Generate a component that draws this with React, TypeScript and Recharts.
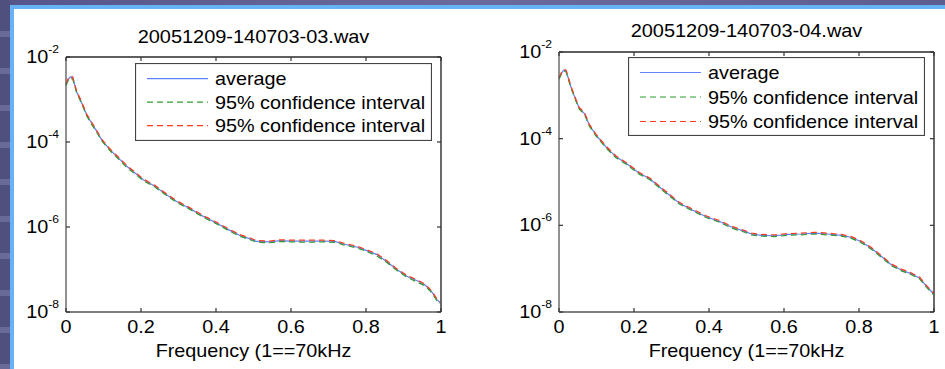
import { LineChart, Line, XAxis, YAxis, Legend, CartesianGrid } from 'recharts';

const FONT = '"Liberation Sans", Arial, Helvetica, sans-serif';
const SX = 1.1; // the slide stretched the matlab figure a bit sideways
const AXIS = '#555';

// frequency axis, normalised (1 == 70 kHz)
const freqTicks = [0, 0.2, 0.4, 0.6, 0.8, 1];
// power axis, values kept as log10 (10^-8 ... 10^-2)
const powerTicks = [-8, -6, -4, -2];

const seriesKeys = ['avg', 'low', 'high'];
const seriesNames = ['average', '95% confidence interval', '95% confidence interval'];
const seriesColors = ['#5f82ff', '#2f9a2f', '#ff3c1e'];
const seriesDash = [undefined, '6 4', '6 4'];

// 20051209-140703-03.wav
const freq03 = [0, 0.006, 0.011, 0.018, 0.028, 0.042, 0.055, 0.068, 0.082, 0.095, 0.117, 0.14, 0.162, 0.184, 0.206, 0.237, 0.268, 0.295, 0.331, 0.366, 0.402, 0.437, 0.464, 0.491, 0.509, 0.544, 0.571, 0.597, 0.642, 0.686, 0.717, 0.74, 0.775, 0.8, 0.829, 0.855, 0.882, 0.909, 0.935, 0.957, 0.975, 0.989, 1];
const avg03 = [-2.65, -2.53, -2.47, -2.49, -2.81, -3.08, -3.36, -3.55, -3.75, -3.95, -4.18, -4.38, -4.57, -4.73, -4.89, -5.04, -5.24, -5.4, -5.57, -5.75, -5.91, -6.08, -6.2, -6.28, -6.34, -6.35, -6.32, -6.33, -6.33, -6.33, -6.34, -6.4, -6.47, -6.55, -6.65, -6.81, -7.0, -7.16, -7.26, -7.36, -7.52, -7.71, -7.8];
const low03 = [-2.67, -2.55, -2.49, -2.52, -2.83, -3.1, -3.38, -3.58, -3.77, -3.97, -4.2, -4.4, -4.6, -4.75, -4.91, -5.06, -5.26, -5.42, -5.59, -5.77, -5.93, -6.1, -6.22, -6.3, -6.36, -6.37, -6.34, -6.35, -6.36, -6.35, -6.36, -6.42, -6.49, -6.57, -6.68, -6.83, -7.02, -7.18, -7.29, -7.38, -7.54, -7.73, -7.82];
const high03 = [-2.63, -2.51, -2.45, -2.47, -2.79, -3.06, -3.34, -3.53, -3.73, -3.93, -4.16, -4.36, -4.55, -4.71, -4.87, -5.02, -5.22, -5.38, -5.55, -5.73, -5.89, -6.06, -6.18, -6.26, -6.32, -6.33, -6.3, -6.31, -6.31, -6.31, -6.32, -6.38, -6.45, -6.53, -6.63, -6.79, -6.98, -7.14, -7.24, -7.34, -7.5, -7.69, -7.78];

// 20051209-140703-04.wav
const freq04 = [0, 0.006, 0.0125, 0.019, 0.032, 0.045, 0.054, 0.068, 0.081, 0.099, 0.125, 0.152, 0.179, 0.214, 0.241, 0.277, 0.321, 0.357, 0.392, 0.428, 0.463, 0.495, 0.513, 0.54, 0.575, 0.611, 0.646, 0.682, 0.717, 0.753, 0.78, 0.806, 0.833, 0.86, 0.886, 0.913, 0.94, 0.962, 0.98, 1];
const avg04 = [-2.61, -2.5, -2.42, -2.44, -2.81, -3.11, -3.3, -3.42, -3.69, -3.92, -4.19, -4.42, -4.57, -4.8, -4.92, -5.18, -5.49, -5.65, -5.8, -5.91, -6.05, -6.14, -6.2, -6.23, -6.24, -6.21, -6.2, -6.18, -6.2, -6.23, -6.28, -6.38, -6.53, -6.72, -6.91, -7.03, -7.12, -7.22, -7.41, -7.59];
const low04 = [-2.63, -2.52, -2.44, -2.46, -2.83, -3.13, -3.32, -3.44, -3.71, -3.94, -4.21, -4.44, -4.59, -4.82, -4.94, -5.2, -5.51, -5.67, -5.82, -5.93, -6.07, -6.16, -6.22, -6.25, -6.26, -6.23, -6.22, -6.2, -6.22, -6.25, -6.3, -6.4, -6.55, -6.74, -6.93, -7.05, -7.14, -7.24, -7.43, -7.61];
const high04 = [-2.59, -2.48, -2.4, -2.42, -2.79, -3.09, -3.28, -3.4, -3.67, -3.9, -4.17, -4.4, -4.55, -4.78, -4.9, -5.16, -5.47, -5.63, -5.78, -5.89, -6.03, -6.12, -6.18, -6.21, -6.22, -6.19, -6.18, -6.16, -6.18, -6.21, -6.26, -6.36, -6.51, -6.7, -6.89, -7.01, -7.1, -7.2, -7.39, -7.57];

function Stretched({ x, y, size, anchor = 'middle', children }: any) {
  return (
    <g transform={`translate(${x},${y}) scale(${SX},1)`}>
      <text x={0} y={0} textAnchor={anchor} fontSize={size} fontFamily={FONT} fill="#000">
        {children}
      </text>
    </g>
  );
}

// inward matlab-style ticks, drawn by the tick renderers themselves
function FreqTick({ x, y, payload }: any) {
  return (
    <g>
      <line x1={x} x2={x} y1={y} y2={y - 4} stroke="#333" strokeWidth={1.2} />
      <Stretched x={x} y={y + 21} size={18}>{String(payload.value)}</Stretched>
    </g>
  );
}

function TopTick({ x, y }: any) {
  return <line x1={x} x2={x} y1={y} y2={y + 4} stroke="#333" strokeWidth={1.2} />;
}

function PowerTick({ x, y, payload }: any) {
  return (
    <g>
      <line x1={x} x2={x + 4} y1={y} y2={y} stroke="#333" strokeWidth={1.2} />
      <g transform={`translate(${x - 7},${y + 6}) scale(${SX},1)`}>
        <text x={0} y={0} textAnchor="end" fontFamily={FONT} fill="#000">
          <tspan fontSize={18}>10</tspan>
          <tspan fontSize={11} dy={-10}>{String(payload.value)}</tspan>
        </text>
      </g>
    </g>
  );
}

function RightTick({ x, y }: any) {
  return <line x1={x} x2={x - 4} y1={y} y2={y} stroke="#333" strokeWidth={1.2} />;
}

function LegendBox({ payload, w, h, row0, rowGap }: any) {
  const items = [...(payload || [])].sort(
    (a: any, b: any) => seriesKeys.indexOf(a.dataKey) - seriesKeys.indexOf(b.dataKey)
  );
  return (
    <svg width={w} height={h} style={{ display: 'block' }}>
      <rect x={0.5} y={0.5} width={w - 1} height={h - 1} fill="#fff" stroke="#444" strokeWidth={1.2} />
      {items.map((entry: any, i: number) => {
        const k = seriesKeys.indexOf(entry.dataKey);
        const cy = row0 + i * rowGap;
        return (
          <g key={i}>
            <line x1={12} x2={73} y1={cy} y2={cy} stroke={seriesColors[k]} strokeWidth={1.2}
              strokeDasharray={seriesDash[k]} />
            <Stretched x={80} y={cy + 6.5} size={18} anchor="start">{seriesNames[k]}</Stretched>
          </g>
        );
      })}
    </svg>
  );
}

function Panel({ file, freq, avg, low, high, left, width, margin, legend, titleY }: any) {
  const rows = freq.map((f: number, i: number) => ({ f, avg: avg[i], low: low[i], high: high[i] }));
  const plotLeft = margin.left + 50;
  const plotRight = width - margin.right - 1;
  const mid = (plotLeft + plotRight) / 2;
  return (
    <div style={{ position: 'absolute', left, top: 0, width, height: 369 }}>
      <LineChart width={width} height={369} data={rows} margin={margin}>
        <CartesianGrid horizontalValues={[-2]} verticalValues={[1]} stroke={AXIS} strokeWidth={1.3}
          strokeDasharray="" />
        <XAxis dataKey="f" type="number" domain={[0, 1]} ticks={freqTicks} interval={0}
          height={40} tickSize={0} tickMargin={0} tickLine={false} tick={FreqTick}
          stroke={AXIS} strokeWidth={1.3} />
        <XAxis xAxisId="top" orientation="top" dataKey="f" type="number" domain={[0, 1]}
          ticks={freqTicks} interval={0} height={1} tickSize={0} tickMargin={0} tickLine={false}
          tick={TopTick} stroke={AXIS} strokeWidth={1.3} />
        <YAxis type="number" domain={[-8, -2]} ticks={powerTicks} interval={0} width={50}
          tickSize={0} tickMargin={0} tickLine={false} tick={PowerTick} stroke={AXIS} strokeWidth={1.3}
          allowDataOverflow />
        <YAxis yAxisId="right" orientation="right" type="number" domain={[-8, -2]} ticks={powerTicks}
          interval={0} width={1} tickSize={0} tickMargin={0} tickLine={false} tick={RightTick}
          stroke={AXIS} strokeWidth={1.3} allowDataOverflow />
        <Legend layout="vertical" align="center" verticalAlign="middle"
          wrapperStyle={{ position: 'absolute', left: legend.x, top: legend.y, width: legend.w, height: legend.h }}
          content={(p: any) => <LegendBox {...p} {...legend} />} />
        <Line dataKey="avg" name={seriesNames[0]} stroke={seriesColors[0]} strokeWidth={1.2}
          dot={false} activeDot={false} isAnimationActive={false} />
        <Line dataKey="low" name={seriesNames[1]} stroke={seriesColors[1]} strokeWidth={1.2}
          strokeDasharray={seriesDash[1]} dot={false} activeDot={false} isAnimationActive={false} />
        <Line dataKey="high" name={seriesNames[2]} stroke={seriesColors[2]} strokeWidth={1.2}
          xAxisId="top" yAxisId="right"
          strokeDasharray={seriesDash[2]} dot={false} activeDot={false} isAnimationActive={false} />
      </LineChart>
      <svg width={width} height={369} style={{ position: 'absolute', left: 0, top: 0, pointerEvents: 'none' }}>
        <g transform={`translate(${mid},${titleY}) scale(1.05,1)`}>
          <text x={0} y={0} textAnchor="middle" fontSize={19} fontFamily={FONT} fill="#000">{file}</text>
        </g>
        <Stretched x={mid} y={357} size={18}>Frequency (1==70kHz</Stretched>
      </svg>
    </div>
  );
}

export default function App() {
  return (
    <div style={{ position: 'absolute', left: 0, top: 0, width: 945, height: 369, background: '#fff', overflow: 'hidden' }}>
      <div style={{ position: 'absolute', left: 0, top: 0, width: 945, height: 5, background: 'linear-gradient(90deg,#55558a,#6b6b9b 50%,#5d5d8f)' }} />
      <div style={{ position: 'absolute', left: 0, top: 0, width: 10, height: 369, background: 'repeating-linear-gradient(180deg,#50507e 0px,#50507e 31px,#6a6a98 31px,#6a6a98 37px)' }} />
      <div style={{ position: 'absolute', left: 10, top: 5, width: 935, height: 4, background: '#66b2f4' }} />
      <div style={{ position: 'absolute', left: 10, top: 5, width: 4, height: 364, background: '#66b2f4' }} />
      <Panel file="20051209-140703-03.wav" freq={freq03} avg={avg03} low={low03} high={high03}
        left={0} width={470} margin={{ top: 56, right: 28, bottom: 17, left: 16 }}
        legend={{ x: 135, y: 63, w: 297, h: 78, row0: 15.7, rowGap: 23.5 }} titleY={43} />
      <Panel file="20051209-140703-04.wav" freq={freq04} avg={avg04} low={low04} high={high04}
        left={470} width={475} margin={{ top: 51, right: 10, bottom: 17, left: 39 }}
        legend={{ x: 158, y: 57, w: 297, h: 79, row0: 15.5, rowGap: 24.5 }} titleY={37} />
    </div>
  );
}
